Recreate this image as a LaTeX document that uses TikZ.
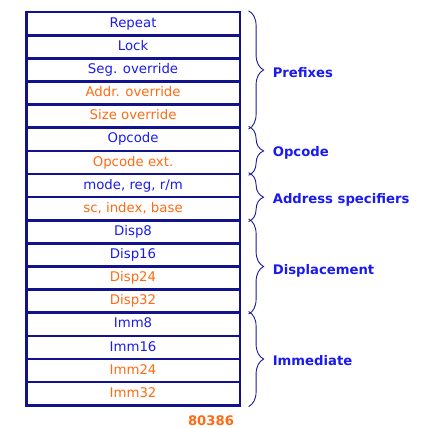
\documentclass[tikz,border=0pt]{standalone}
\usepackage{fontspec}
\setmainfont{DejaVu Sans}
\usetikzlibrary{decorations.pathreplacing,calc}
\definecolor{navy}{HTML}{12128C}
\definecolor{bracecol}{HTML}{1A1A9A}
\definecolor{txtblue}{HTML}{1A1AF0}
\definecolor{txtorange}{HTML}{FF6A13}
\begin{document}
\begin{tikzpicture}[x=1pt,y=-1pt,
  rowbox/.style={draw=navy, line width=2.6pt, minimum width=213.5pt, minimum height=23.13pt,
    inner sep=0pt, anchor=north west, text height=9.8pt, text depth=2.6pt,
    font=\fontsize{13.3}{14}\selectfont},
  bl/.style={text=txtblue},
  og/.style={text=txtorange},
  grpbrace/.style={draw=bracecol, line width=0.9pt, decorate,
    decoration={brace, amplitude=15pt}},
  grplabel/.style={anchor=base west, text=txtblue, inner sep=0pt,
    font=\fontsize{13.2}{14}\selectfont\bfseries}
]
\useasboundingbox (0,0) rectangle (425,428);
\foreach \i/\t/\c in {1/Repeat/bl, 2/Lock/bl, 3/Seg. override/bl, 4/Addr. override/og,
  5/Size override/og, 6/Opcode/bl, 7/Opcode ext./og, 8/{mode, reg, r/m}/bl,
  9/{sc, index, base}/og, 10/Disp8/bl, 11/Disp16/bl, 12/Disp24/og, 13/Disp32/og,
  14/Imm8/bl, 15/Imm16/bl, 16/Imm24/og, 17/Imm32/og}
  \node[rowbox, \c] (r\i) at (25, {10.8 + (\i-1)*23.13}) {\t};

\foreach \a/\b/\n/\t/\dy in {1/5/pre/Prefixes/8, 6/7/opc/Opcode/5.5, 8/9/adr/Address specifiers/6,
  10/13/dis/Displacement/8, 14/17/imm/Immediate/6.5} {
  \coordinate (\n top) at ($(r\a.north east)+(7.5,0)$);
  \coordinate (\n bot) at ($(r\b.south east)+(7.5,0)$);
  \draw[grpbrace] (\n top) -- (\n bot);
  \node[grplabel] (\n) at ($(\n top)!0.5!(\n bot)+(24,\dy)$) {\t};
}

\node[text=txtorange, font=\fontsize{13.2}{14}\selectfont\bfseries, inner sep=0pt] (cpu) at (211,420.5) {80386};
\end{tikzpicture}
\end{document}
